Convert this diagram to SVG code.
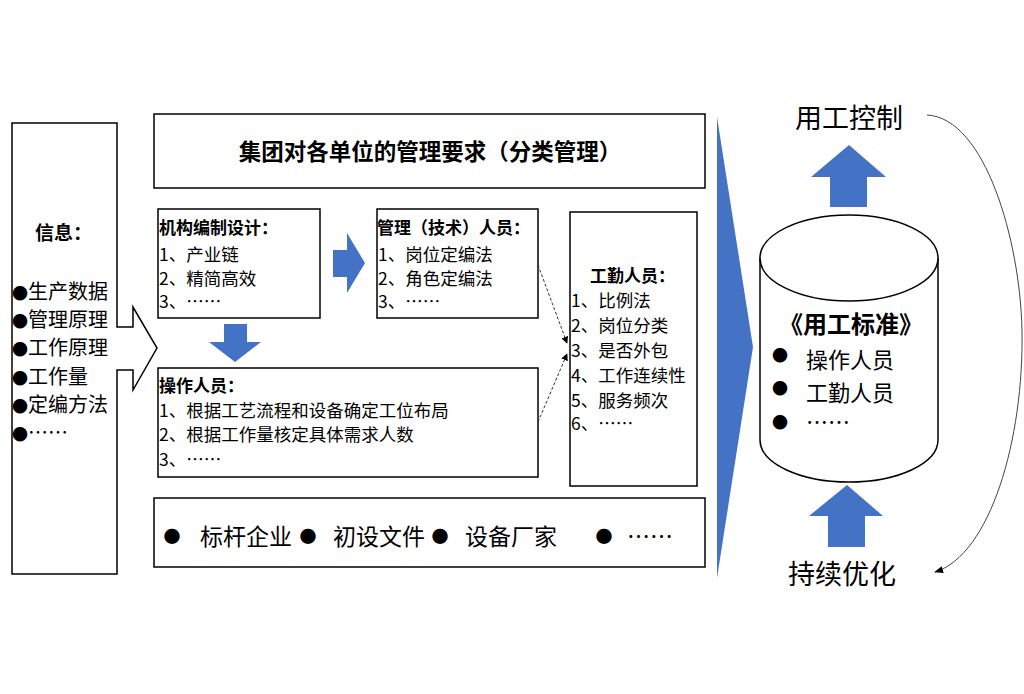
<svg xmlns="http://www.w3.org/2000/svg" width="1024" height="694" viewBox="0 0 1024 694">
<style>
.box{fill:#fff;stroke:#000;stroke-width:1.5}
.t{font-family:"Noto Sans CJK SC","Liberation Sans",sans-serif;fill:#000}
.b{font-weight:bold}
.blue{fill:#4472C4}
.dot{font-size:16px}
</style>
<defs>
<marker id="ah" viewBox="0 0 10 10" refX="9" refY="5" markerWidth="7" markerHeight="7" orient="auto" markerUnits="userSpaceOnUse">
<path d="M0 0 L10 5 L0 10 Z" fill="#000"/>
</marker>
<marker id="ah2" viewBox="0 0 10 10" refX="9" refY="5" markerWidth="9" markerHeight="9" orient="auto" markerUnits="userSpaceOnUse">
<path d="M0 1 L10 5 L0 9 Z" fill="#000"/>
</marker>
</defs>
<rect width="1024" height="694" fill="#fff"/>

<g id="info">
<path class="box" d="M12 123 H117 V327 H133 V307 L157 348 L133 390 V370 H117 V574 H12 Z"/>
<text class="t b" x="35" y="240" font-size="19">信息：</text>
<g class="t" font-size="20">
<text x="12" y="299"><tspan class="dot">●</tspan><tspan x="28">生产数据</tspan></text>
<text x="12" y="327"><tspan class="dot">●</tspan><tspan x="28">管理原理</tspan></text>
<text x="12" y="355"><tspan class="dot">●</tspan><tspan x="28">工作原理</tspan></text>
<text x="12" y="384"><tspan class="dot">●</tspan><tspan x="28">工作量</tspan></text>
<text x="12" y="412"><tspan class="dot">●</tspan><tspan x="28">定编方法</tspan></text>
<text x="12" y="440"><tspan class="dot">●</tspan><tspan x="28">……</tspan></text>
</g>
</g>

<g id="title">
<rect class="box" x="154" y="114" width="551" height="74"/>
<text class="t b" x="430" y="160" font-size="22.5" text-anchor="middle">集团对各单位的管理要求（分类管理）</text>
</g>

<g id="org">
<rect class="box" x="158" y="209" width="162" height="109"/>
<text class="t b" x="159" y="234" font-size="17">机构编制设计：</text>
<g class="t" font-size="17.5">
<text x="159" y="261">1、产业链</text>
<text x="159" y="285">2、精简高效</text>
<text x="159" y="308">3、……</text>
</g>
</g>

<g id="mgmt">
<rect class="box" x="377" y="209" width="161" height="109"/>
<text class="t b" x="377" y="234" font-size="17">管理（技术）人员：</text>
<g class="t" font-size="17.5">
<text x="378" y="261">1、岗位定编法</text>
<text x="378" y="285">2、角色定编法</text>
<text x="378" y="308">3、……</text>
</g>
</g>

<g id="operators">
<rect class="box" x="158" y="368" width="380" height="109"/>
<text class="t b" x="159" y="392" font-size="17">操作人员：</text>
<g class="t" font-size="17.5">
<text x="159" y="417">1、根据工艺流程和设备确定工位布局</text>
<text x="159" y="441">2、根据工作量核定具体需求人数</text>
<text x="159" y="466">3、……</text>
</g>
</g>

<g id="support">
<rect class="box" x="570" y="212" width="127" height="274"/>
<text class="t b" x="590" y="282" font-size="17">工勤人员：</text>
<g class="t" font-size="17.5">
<text x="571" y="307">1、比例法</text>
<text x="571" y="332">2、岗位分类</text>
<text x="571" y="357">3、是否外包</text>
<text x="571" y="382">4、工作连续性</text>
<text x="571" y="407">5、服务频次</text>
<text x="571" y="430">6、……</text>
</g>
</g>

<g id="sources">
<rect class="box" x="154" y="498" width="551" height="69"/>
<g class="t" font-size="23">
<text x="163.5" y="543" font-size="17">●</text>
<text x="200" y="545">标杆企业</text>
<text x="299.5" y="543" font-size="17">●</text>
<text x="333" y="545">初设文件</text>
<text x="431.5" y="543" font-size="17">●</text>
<text x="465" y="545">设备厂家</text>
<text x="595.5" y="543" font-size="17">●</text>
<text x="627" y="545">……</text>
</g>
</g>

<g id="standard">
<path class="box" d="M760 258 V440 A89 42 0 0 0 938 440 V258"/>
<ellipse class="box" cx="849" cy="258" rx="89" ry="43"/>
<text class="t b" x="851" y="333" font-size="24" text-anchor="middle">《用工标准》</text>
<g class="t" font-size="22">
<text x="772" y="361" font-size="16">●</text>
<text x="806" y="368">操作人员</text>
<text x="772" y="394" font-size="16">●</text>
<text x="806" y="401">工勤人员</text>
<text x="772" y="428" font-size="16">●</text>
<text x="806" y="430">……</text>
</g>
</g>

<g id="control">
<text class="t" x="795" y="128" font-size="27">用工控制</text>
</g>
<g id="optimize">
<text class="t" x="788" y="584" font-size="27">持续优化</text>
</g>

<g id="connectors">
<path class="blue" d="M333 250 H347 V233 L365 263 L347 293 V277 H333 Z"/>
<path class="blue" d="M224 324 H247 V342 H261 L235 362 L209 342 H224 Z"/>
<path class="blue" d="M717 117 L753 347 L717 578 Z"/>
<path class="blue" d="M830 207 V177 H811 L849 145 L886 177 H867 V207 Z"/>
<path class="blue" d="M828 547 V516 H809 L847 485 L883 516 H865 V547 Z"/>
<line x1="538" y1="265" x2="567" y2="343" stroke="#333" stroke-width="1" stroke-dasharray="3 2" marker-end="url(#ah)"/>
<line x1="538" y1="422" x2="567" y2="354" stroke="#333" stroke-width="1" stroke-dasharray="3 2" marker-end="url(#ah)"/>
<path d="M927 115 C985 118 1020 240 1022 330 C1024 440 990 555 935 572" fill="none" stroke="#444" stroke-width="1" marker-end="url(#ah2)"/>
</g>
</svg>
